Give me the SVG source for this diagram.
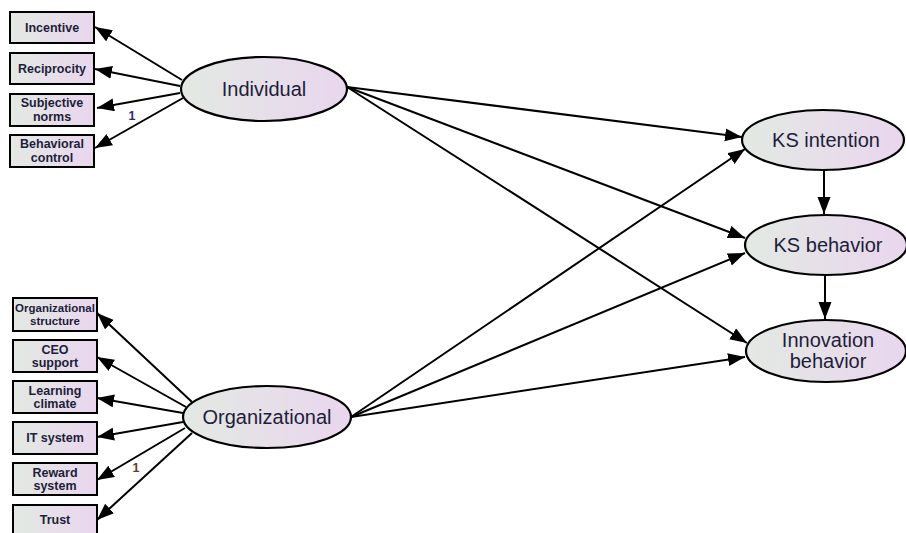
<svg xmlns="http://www.w3.org/2000/svg" width="906" height="533" viewBox="0 0 906 533">
<defs>
<linearGradient id="g" x1="0" y1="0" x2="1" y2="0">
<stop offset="0" stop-color="#e3e9e3"/>
<stop offset="1" stop-color="#e9d6ee"/>
</linearGradient>
<marker id="ah" markerUnits="userSpaceOnUse" markerWidth="20" markerHeight="14" refX="17" refY="6.5" orient="auto">
<path d="M0,0 L17,6.5 L0,13 Z" fill="#000"/>
</marker>
</defs>
<style>
.box{fill:url(#g);stroke:#000;stroke-width:2}
.ell{fill:url(#g);stroke:#000;stroke-width:2.2}
.bt{font-family:"Liberation Sans",Arial,sans-serif;font-size:12.5px;font-weight:bold;fill:#1e1e3a;text-anchor:middle}
.et{font-family:"Liberation Sans",Arial,sans-serif;font-size:20px;fill:#1e1e3a;text-anchor:middle}
.lbl{font-family:"Liberation Sans",Arial,sans-serif;font-size:12.5px;font-weight:bold;text-anchor:middle}
.c{stroke:#000;stroke-width:2;fill:none;marker-end:url(#ah)}
</style>
<rect width="906" height="533" fill="#fff"/>
<g id="connectors">
<line class="c" x1="182" y1="80" x2="95" y2="27"/>
<line class="c" x1="180" y1="86" x2="95" y2="69"/>
<line class="c" x1="180" y1="93" x2="97" y2="108"/>
<line class="c" x1="183" y1="98" x2="95" y2="148"/>
<line class="c" x1="192" y1="402" x2="97" y2="313"/>
<line class="c" x1="186" y1="407" x2="97" y2="357"/>
<line class="c" x1="183" y1="413" x2="97" y2="398"/>
<line class="c" x1="183" y1="422" x2="97" y2="437"/>
<line class="c" x1="185" y1="428" x2="97" y2="480"/>
<line class="c" x1="192" y1="433" x2="97" y2="520"/>
<line class="c" x1="347" y1="87" x2="742" y2="137"/>
<line class="c" x1="347" y1="87" x2="745" y2="238"/>
<line class="c" x1="347" y1="87" x2="747" y2="343"/>
<line class="c" x1="351" y1="417" x2="745" y2="149"/>
<line class="c" x1="351" y1="417" x2="745" y2="253"/>
<line class="c" x1="351" y1="417" x2="745" y2="357"/>
<line class="c" x1="824" y1="171" x2="824" y2="214"/>
<line class="c" x1="825" y1="276" x2="825" y2="319"/>
<text class="lbl" x="132" y="120" fill="#2a2a70">1</text>
<text class="lbl" x="136" y="472" fill="#6a3a28">1</text>
</g>
<g id="incentive"><rect class="box" x="10" y="12" width="84" height="31"/><text class="bt" x="52" y="32">Incentive</text></g>
<g id="reciprocity"><rect class="box" x="10" y="53" width="84" height="31"/><text class="bt" x="52" y="73">Reciprocity</text></g>
<g id="subjective-norms"><rect class="box" x="10" y="94" width="84" height="32"/><text class="bt" x="52" y="107">Subjective</text><text class="bt" x="52" y="121">norms</text></g>
<g id="behavioral-control"><rect class="box" x="10" y="135" width="84" height="32"/><text class="bt" x="52" y="148">Behavioral</text><text class="bt" x="52" y="162">control</text></g>
<g id="org-structure"><rect class="box" x="13" y="298" width="84" height="33"/><text class="bt" x="55" y="312" style="font-size:11.5px">Organizational</text><text class="bt" x="55" y="325" style="font-size:11.5px">structure</text></g>
<g id="ceo-support"><rect class="box" x="13" y="340" width="84" height="32"/><text class="bt" x="55" y="354">CEO</text><text class="bt" x="55" y="367">support</text></g>
<g id="learning-climate"><rect class="box" x="13" y="381" width="84" height="32"/><text class="bt" x="55" y="395">Learning</text><text class="bt" x="55" y="408">climate</text></g>
<g id="it-system"><rect class="box" x="13" y="422" width="84" height="32"/><text class="bt" x="55" y="442">IT system</text></g>
<g id="reward-system"><rect class="box" x="13" y="463" width="84" height="32"/><text class="bt" x="55" y="477">Reward</text><text class="bt" x="55" y="490">system</text></g>
<g id="trust"><rect class="box" x="13" y="505" width="84" height="34"/><text class="bt" x="55" y="524">Trust</text></g>
<g id="individual"><ellipse class="ell" cx="264" cy="89" rx="83" ry="32"/><text class="et" x="264" y="96">Individual</text></g>
<g id="organizational"><ellipse class="ell" cx="267" cy="417" rx="84" ry="31"/><text class="et" x="267" y="424">Organizational</text></g>
<g id="ks-intention"><ellipse class="ell" cx="823" cy="140" rx="81" ry="30"/><text class="et" x="826" y="147">KS intention</text></g>
<g id="ks-behavior"><ellipse class="ell" cx="826" cy="245" rx="81" ry="30"/><text class="et" x="828" y="252">KS behavior</text></g>
<g id="innovation-behavior"><ellipse class="ell" cx="826" cy="351" rx="80" ry="31"/><text class="et" x="828" y="347">Innovation</text><text class="et" x="828" y="368">behavior</text></g>
</svg>
